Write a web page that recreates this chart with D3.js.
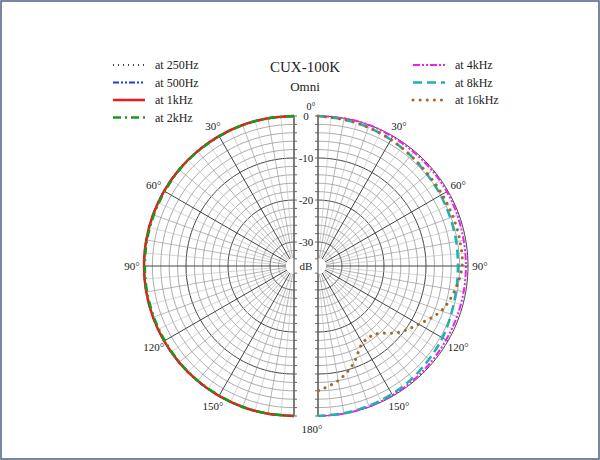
<!DOCTYPE html><html><head><meta charset="utf-8"><script src="https://cdn.jsdelivr.net/npm/d3@7"></script>
<style>body{margin:0;background:#fff}svg{display:block}text{font-family:"Liberation Serif","DejaVu Serif",serif;fill:#222}</style></head><body><svg id="c" width="600" height="460"></svg><script>
const angles=[0,10,20,30,40,50,60,70,80,90,100,110,120,130,140,150,160,170,180];
const f250=[0,0,0,0,0,0,0,0,0,0,0,0,0,0,0,0,0,0,0];
const f500=[0,0,0,0,0,0,0,0,0,0,0,0,0,0,0,0,0,0,0];
const f1k=[0,0,0,0,0,0,0,0,0,0,0,0,0,0,0,0,0,0,0];
const f2k=[0,0,0,-0.1,-0.1,-0.1,-0.2,-0.2,-0.2,-0.2,-0.2,-0.2,-0.2,-0.1,-0.1,-0.1,0,0,0];
const f4k=[0,0,0,-0.2,-0.3,-0.3,-0.3,-0.4,-0.5,-0.5,-0.5,-0.5,-0.5,-0.4,-0.3,-0.2,-0.1,0,0];
const f8k=[0,-0.3,-0.6,-1,-1.4,-1.8,-2,-2.2,-2.3,-2.4,-2.3,-2.0,-1.5,-1.2,-0.8,-0.5,-0.3,-0.1,0];
const f16k=[0,-0.3,-0.6,-1,-1.4,-1.6,-1.6,-1.5,-1.4,-1.4,-2.6,-4.5,-8,-11,-14.5,-14.5,-11,-8,-6];
const ringTicks=[0,-10,-20,-30];
const angleLabels=[30,60,90,120,150];
const svg=d3.select("#c");
svg.append("rect").attr("x",1).attr("y",1).attr("width",598).attr("height",458).attr("fill","none").attr("stroke","#4a6080").attr("stroke-width",1.5);
const cy=266,R=150,cxL=294,cxR=318;
const r=d3.scaleLinear().domain([-35.7,0]).range([0,R]);
function half(cx,side){
 const g=svg.append("g").attr("transform",`translate(${cx},${cy})`);
 const pt=(a,rad)=>[side*rad*Math.sin(a*Math.PI/180),-rad*Math.cos(a*Math.PI/180)];
 const arc=rad=>d3.line()(d3.range(0,181,2).map(a=>pt(a,rad)));
 for(let d=0;d>=-34;d-=2){g.append("path").attr("d",arc(r(d))).attr("fill","none").attr("stroke",d%10===0?"#444":"#888").attr("stroke-width",d%10===0?1:0.7);}
 for(let a=0;a<=180;a+=10){const [x,y]=pt(a,R);const [x0,y0]=pt(a,8);g.append("line").attr("x1",x0).attr("y1",y0).attr("x2",x).attr("y2",y).attr("stroke",a%30===0?"#444":"#999").attr("stroke-width",a%30===0?1:0.7);}
 for(let a=5;a<180;a+=10){const [x,y]=pt(a,R);const [x0,y0]=pt(a,r(-30));g.append("line").attr("x1",x0).attr("y1",y0).attr("x2",x).attr("y2",y).attr("stroke","#bbb").attr("stroke-width",0.6);}
 g.append("circle").attr("r",8).attr("fill","#fff");
 g.append("line").attr("x1",0).attr("x2",0).attr("y1",-R).attr("y2",R).attr("stroke","#666").attr("stroke-width",1.2);
 for(let d=0;d>=-34;d-=2){[-1,1].forEach(s=>g.append("line").attr("x1",0).attr("x2",-side*3).attr("y1",s*r(d)).attr("y2",s*r(d)).attr("stroke","#666"));}
 angleLabels.forEach(a=>{const [x,y]=pt(a,R+12);g.append("text").attr("x",x).attr("y",y+4).attr("text-anchor","middle").attr("font-size",11).text(a+"°");});
 return {g,pt};
}
const L=half(cxL,-1),Rh=half(cxR,1);
function curve(h,vals,color,dash,w,cap){
 h.g.append("path").attr("d",d3.line().curve(d3.curveCatmullRom)(angles.map((a,i)=>h.pt(a,r(vals[i]))))).attr("fill","none").attr("stroke",color).attr("stroke-width",w).attr("stroke-dasharray",dash).attr("stroke-linecap",cap||"butt");
}
const S={k250:["#000","1,4",1.5,"butt"],k500:["#1a3de0","6,2,2,2,2,2",2,"butt"],k1:["#f01818",null,2.5,"butt"],k2:["#1a9a1a","8,4,2,4",2.5,"butt"],k4:["#f020f0","7,2,2,2,2,2",2,"butt"],k8:["#20b0b0","9,5",2.5,"butt"],k16:["#a06a30","0.1,7",3,"round"]};
curve(L,f250,...S.k250);curve(L,f500,...S.k500);curve(L,f1k,...S.k1);curve(L,f2k,...S.k2);
curve(Rh,f4k,...S.k4);curve(Rh,f8k,...S.k8);curve(Rh,f16k,...S.k16);
ringTicks.forEach(d=>svg.append("text").attr("x",306).attr("y",cy-r(d)+4).attr("text-anchor","middle").attr("font-size",11).text(d));
svg.append("text").attr("x",306).attr("y",cy+4).attr("text-anchor","middle").attr("font-size",11).text("dB");
svg.append("text").attr("x",311).attr("y",110).attr("text-anchor","middle").attr("font-size",10).text("0°");
svg.append("text").attr("x",312).attr("y",433).attr("text-anchor","middle").attr("font-size",11).text("180°");
svg.append("text").attr("x",305).attr("y",72).attr("text-anchor","middle").attr("font-size",15).text("CUX-100K");
svg.append("text").attr("x",305).attr("y",91).attr("text-anchor","middle").attr("font-size",13).text("Omni");
const legL=[["at 250Hz","k250"],["at 500Hz","k500"],["at 1kHz","k1"],["at 2kHz","k2"]];
const legR=[["at 4kHz","k4"],["at 8kHz","k8"],["at 16kHz","k16"]];
function leg(items,x){items.forEach(([t,k],i)=>{const y=65+i*17.5;const s=S[k];svg.append("line").attr("x1",x).attr("x2",x+32).attr("y1",y).attr("y2",y).attr("stroke",s[0]).attr("stroke-width",s[2]).attr("stroke-dasharray",s[1]).attr("stroke-linecap",s[3]);svg.append("text").attr("x",x+42).attr("y",y+4).attr("font-size",12).text(t);});}
leg(legL,113);leg(legR,413);
</script></body></html>
